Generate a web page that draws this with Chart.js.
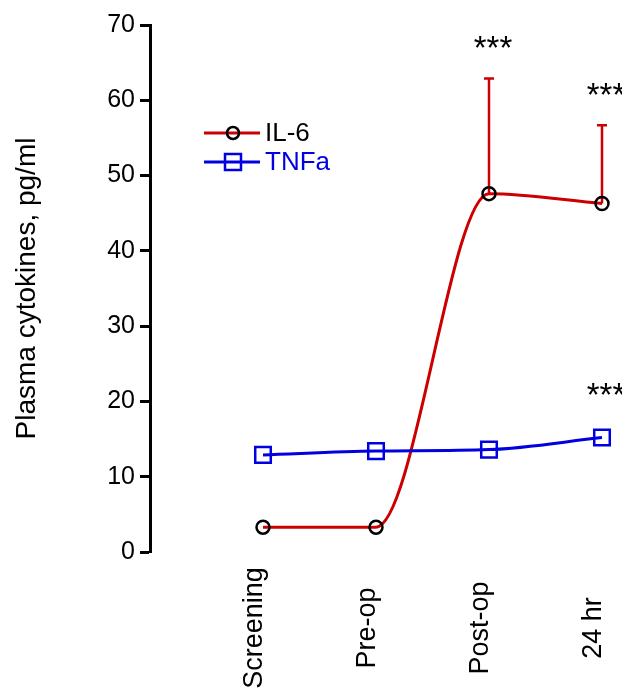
<!DOCTYPE html>
<html>
<head>
<meta charset="utf-8">
<script src="https://cdn.jsdelivr.net/npm/chart.js@4"></script>
<style>
  html, body { margin: 0; padding: 0; background: #fff; }
  #wrap { width: 622px; height: 688px; position: relative; }
</style>
</head>
<body>
<div id="wrap"><canvas id="chart"></canvas></div>
<script>
const timepoints = ["Screening", "Pre-op", "Post-op", "24 hr"];
const il6Values = [3.3, 3.3, 47.6, 46.3];
const il6ErrorUp = [0, 0, 15.3, 10.4];
const tnfValues = [12.9, 13.4, 13.6, 15.2];
const tnfErrorUp = [0, 0, 0, 0];
const il6Stars = ["", "", "***", "***"];
const tnfStars = ["", "", "", "***"];
const yTicks = [0, 10, 20, 30, 40, 50, 60, 70];

const FONT = "'Liberation Sans', Arial, sans-serif";
const RED = "#cc0000";
const BLUE = "#0000e0";

function toPoints(values) {
  return values.map((v, i) => ({ x: i, y: v }));
}

const extras = {
  id: "extras",
  beforeDatasetsDraw(chart) {
    const { ctx, scales: { x, y } } = chart;
    ctx.save();
    [[il6Values, il6ErrorUp, RED], [tnfValues, tnfErrorUp, BLUE]].forEach(([vals, errs, color]) => {
      vals.forEach((v, i) => {
        if (!errs[i]) return;
        const px = x.getPixelForValue(i);
        const y0 = y.getPixelForValue(v);
        const y1 = y.getPixelForValue(v + errs[i]);
        ctx.strokeStyle = color;
        ctx.lineWidth = 2.5;
        ctx.beginPath();
        ctx.moveTo(px, y0);
        ctx.lineTo(px, y1);
        ctx.moveTo(px - 5, y1);
        ctx.lineTo(px + 5, y1);
        ctx.stroke();
      });
    });
    ctx.restore();
  },
  afterDraw(chart) {
    const { ctx, scales: { x, y } } = chart;
    ctx.save();

    // significance stars
    ctx.fillStyle = "#000";
    ctx.font = `33px ${FONT}`;
    ctx.textAlign = "center";
    ctx.textBaseline = "alphabetic";
    il6Stars.forEach((s, i) => {
      if (!s) return;
      ctx.fillText(s, x.getPixelForValue(i) + 4, y.getPixelForValue(il6Values[i] + il6ErrorUp[i]) - 19);
    });
    tnfStars.forEach((s, i) => {
      if (!s) return;
      ctx.fillText(s, x.getPixelForValue(i) + 4, y.getPixelForValue(tnfValues[i] + tnfErrorUp[i]) - 32);
    });

    // rotated category labels
    ctx.font = `27px ${FONT}`;
    timepoints.forEach((label, i) => {
      ctx.save();
      ctx.translate(x.getPixelForValue(i) - 1, 628);
      ctx.rotate(-Math.PI / 2);
      ctx.textAlign = "center";
      ctx.textBaseline = "alphabetic";
      ctx.fillText(label, 0, 0);
      ctx.restore();
    });

    // legend
    const rows = [
      { label: "IL-6", line: RED, marker: "circle", text: "#000", yy: 133 },
      { label: "TNFa", line: BLUE, marker: "rect", text: BLUE, yy: 162 },
    ];
    rows.forEach((r) => {
      ctx.strokeStyle = r.line;
      ctx.lineWidth = 3;
      ctx.beginPath();
      ctx.moveTo(204, r.yy);
      ctx.lineTo(260, r.yy);
      ctx.stroke();
      if (r.marker === "circle") {
        ctx.strokeStyle = "#000";
        ctx.lineWidth = 2.5;
        ctx.beginPath();
        ctx.arc(233, r.yy, 6, 0, Math.PI * 2);
        ctx.stroke();
      } else {
        ctx.strokeStyle = BLUE;
        ctx.lineWidth = 2.5;
        ctx.strokeRect(225, r.yy - 8, 16, 16);
      }
      ctx.fillStyle = r.text;
      ctx.font = `26px ${FONT}`;
      ctx.textAlign = "left";
      ctx.textBaseline = "middle";
      ctx.fillText(r.label, 265, r.yy + 1);
    });

    ctx.restore();
  },
};

new Chart(document.getElementById("chart"), {
  type: "line",
  data: {
    datasets: [
      {
        label: "IL-6",
        data: toPoints(il6Values),
        borderColor: RED,
        borderWidth: 3,
        cubicInterpolationMode: "monotone",
        pointStyle: "circle",
        pointRadius: 6.5,
        pointBorderWidth: 2.5,
        pointBorderColor: "#000",
        pointBackgroundColor: "rgba(0,0,0,0)",
        clip: false,
        order: 1,
      },
      {
        label: "TNFa",
        data: toPoints(tnfValues),
        borderColor: BLUE,
        borderWidth: 3,
        cubicInterpolationMode: "monotone",
        pointStyle: "rect",
        pointRadius: 11,
        pointBorderWidth: 2.5,
        pointBorderColor: BLUE,
        pointBackgroundColor: "rgba(0,0,0,0)",
        clip: false,
        order: 0,
      },
    ],
  },
  options: {
    responsive: true,
    maintainAspectRatio: false,
    animation: false,
    layout: { autoPadding: false, padding: { top: 25, bottom: 136, left: 0, right: 0 } },
    plugins: {
      legend: { display: false },
      tooltip: { enabled: false },
    },
    scales: {
      x: {
        type: "linear",
        min: -1,
        max: 3.177,
        display: false,
      },
      y: {
        min: 0,
        max: 70,
        afterBuildTicks: (axis) => {
          axis.ticks = yTicks.map((v) => ({ value: v }));
        },
        afterFit: (axis) => {
          axis.width = 150;
        },
        border: { display: true, color: "#000", width: 3 },
        grid: { drawOnChartArea: false, drawTicks: true, tickLength: 10, tickWidth: 3, tickColor: "#000" },
        ticks: { color: "#000", font: { family: FONT, size: 25 }, padding: 5 },
        title: {
          display: true,
          text: "Plasma cytokines, pg/ml",
          color: "#000",
          font: { family: FONT, size: 28 },
          padding: { top: 10, bottom: 0 },
        },
      },
    },
  },
  plugins: [extras],
});
</script>
</body>
</html>
